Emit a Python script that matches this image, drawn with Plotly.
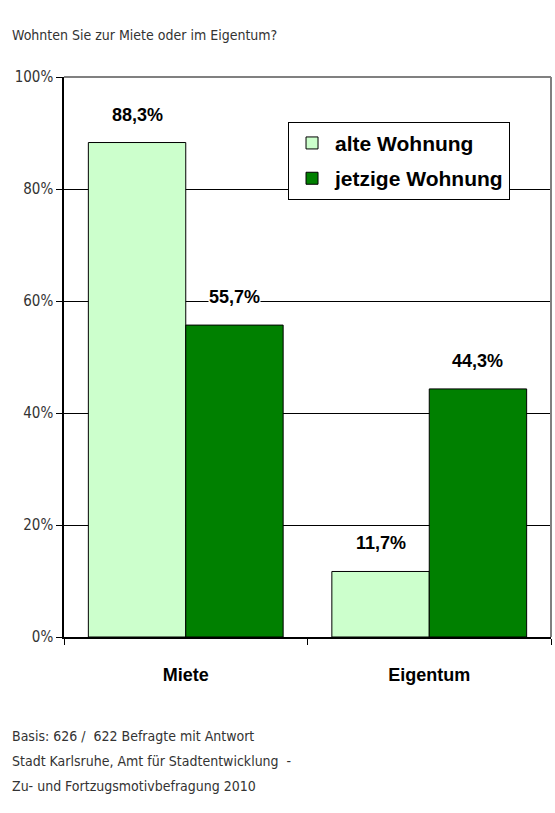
import plotly.graph_objects as go

categories = ["Miete", "Eigentum"]
alte_wohnung = [88.3, 11.7]
jetzige_wohnung = [55.7, 44.3]
y_ticks = [0, 20, 40, 60, 80, 100]
y_tick_labels = ["0%", "20%", "40%", "60%", "80%", "100%"]

narrow = "Liberation Sans Narrow, Arial Narrow, DejaVu Sans Condensed, sans-serif"
bold_font = "Liberation Sans, Arial, sans-serif"

fig = go.Figure()
fig.add_trace(go.Bar(
    x=categories, y=alte_wohnung, name="<b>alte Wohnung</b>", legendgroup="a",
    marker=dict(color="#CCFFCC", line=dict(color="#000000", width=1)),
))
fig.add_trace(go.Bar(
    x=categories, y=jetzige_wohnung, name="<b>jetzige Wohnung</b>", legendgroup="b",
    marker=dict(color="#008000", line=dict(color="#000000", width=1)),
))

# value labels above each bar
for i, cat in enumerate(categories):
    for offset, vals in ((-0.2, alte_wohnung), (0.2, jetzige_wohnung)):
        v = vals[i]
        fig.add_annotation(
            x=i + offset, y=v, xref="x", yref="y", yshift=28,
            text="<b>" + f"{v:.1f}".replace(".", ",") + "%</b>",
            showarrow=False, bgcolor="white", borderpad=0,
            font=dict(family=bold_font, size=18, color="black"),
        )

# gray frame at top and right of the plot area
fig.add_shape(type="line", xref="paper", yref="paper", x0=0, x1=1, y0=1, y1=1,
              line=dict(color="#808080", width=2))
fig.add_shape(type="line", xref="paper", yref="paper", x0=1, x1=1, y0=0, y1=1,
              line=dict(color="#808080", width=2))

fig.update_layout(
    width=555, height=813,
    margin=dict(l=64, r=4, t=77, b=176),
    paper_bgcolor="white", plot_bgcolor="white",
    barmode="group", bargap=0.2, bargroupgap=0,
    showlegend=True,
    legend=dict(
        x=0.46, y=0.92, xanchor="left", yanchor="top",
        bgcolor="white", bordercolor="black", borderwidth=1,
        font=dict(family=bold_font, size=21, color="black"),
        traceorder="grouped", tracegroupgap=5, itemwidth=36,
        itemclick=False, itemdoubleclick=False,
    ),
    xaxis=dict(
        showline=True, linecolor="black", linewidth=1.5,
        ticks="outside", tickson="boundaries", ticklen=6, tickcolor="black",
        tickfont=dict(family=bold_font, size=18, color="black"),
        ticklabelstandoff=21, showgrid=False,
        tickvals=categories, ticktext=["<b>" + c + "</b>" for c in categories],
    ),
    yaxis=dict(
        range=[0, 100], tickvals=y_ticks, ticktext=y_tick_labels,
        showline=True, linecolor="black", linewidth=1.5,
        ticks="outside", ticklen=6, tickcolor="black",
        showgrid=True, gridcolor="black", gridwidth=1, zeroline=False,
        tickfont=dict(family=narrow, size=15, color="#333333"),
    ),
    font=dict(family=narrow, color="#333333"),
)

fig.add_annotation(
    xref="paper", yref="paper", x=-54 / 487, y=(637 - 35) / 560,
    xanchor="left", yanchor="middle", showarrow=False,
    text="Wohnten Sie zur Miete oder im Eigentum?",
    font=dict(family=narrow, size=14, color="#333333"),
)
footer = [
    "Basis: 626 /  622 Befragte mit Antwort",
    "Stadt Karlsruhe, Amt für Stadtentwicklung  -",
    "Zu- und Fortzugsmotivbefragung 2010",
]
for k, line in enumerate(footer):
    fig.add_annotation(
        xref="paper", yref="paper", x=-54 / 487, y=(637 - (736 + 25 * k)) / 560,
        xanchor="left", yanchor="middle", showarrow=False, text=line,
        font=dict(family=narrow, size=14, color="#333333"),
    )

fig.write_html("out.html")
